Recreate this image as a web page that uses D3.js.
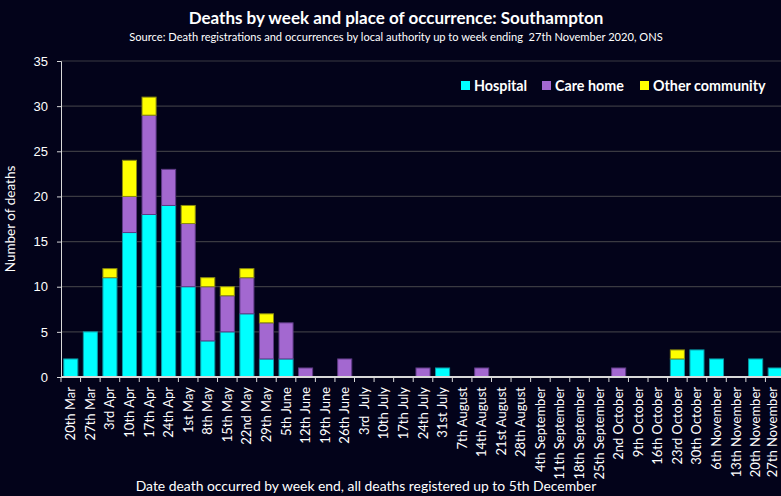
<!DOCTYPE html>
<html><head><meta charset="utf-8">
<script src="https://cdn.jsdelivr.net/npm/d3@7"></script>
<style>
html,body{margin:0;padding:0;background:#03031a;}
svg{display:block;font-family:Lato,"Open Sans",sans-serif;}
</style></head><body>
<svg id="c" width="781" height="496"></svg>
<script>
const categories = ["20th Mar","27th Mar","3rd Apr","10th Apr","17th Apr","24th Apr","1st May","8th May","15th May","22nd May","29th May","5th June","12th June","19th June","26th June","3rd  July","10th July","17th July","24th July","31st July","7th August","14th August","21st August","28th August","4th September","11th September","18th September","25th September","2nd October","9th October","16th October","23rd October","30th October","6th November","13th November","20th November","27th November"];
const hospital = [2,5,11,16,18,19,10,4,5,7,2,2,0,0,0,0,0,0,0,1,0,0,0,0,0,0,0,0,0,0,0,2,3,2,0,2,1];
const careHome = [0,0,0,4,11,4,7,6,4,4,4,4,1,0,2,0,0,0,1,0,0,1,0,0,0,0,0,0,1,0,0,0,0,0,0,0,0];
const otherCommunity = [0,0,1,4,2,0,2,1,1,1,1,0,0,0,0,0,0,0,0,0,0,0,0,0,0,0,0,0,0,0,0,1,0,0,0,0,0];
const seriesNames = ["Hospital","Care home","Other community"];
const seriesFill = ["#00ffff","#a368d0","#ffff00"];
const seriesStroke = ["#0a9aa6","#5e3a85","#8a8a10"];
const yTicks = [0,5,10,15,20,25,30,35];

const svg = d3.select("#c");
const mLeft = 61, mRight = 785, mTop = 61, mBottom = 377;
const x = d3.scaleBand().domain(categories).range([mLeft, mRight]).paddingInner(0.23).paddingOuter(0.115);
const y = d3.scaleLinear().domain([0,35]).range([mBottom, mTop]);

const rows = categories.map((c,i)=>({cat:c, "Hospital":hospital[i], "Care home":careHome[i], "Other community":otherCommunity[i]}));
const stacked = d3.stack().keys(seriesNames)(rows);

// gridlines
svg.append("g").selectAll("line").data(yTicks.filter(d=>d>0)).join("line")
  .attr("x1", mLeft).attr("x2", 781).attr("y1", d=>y(d)).attr("y2", d=>y(d))
  .attr("stroke","#3a3a42").attr("stroke-width",1.2);

// bars
stacked.forEach((s,si)=>{
  svg.append("g").selectAll("rect").data(s.filter(d=>d[1]-d[0]>0)).join("rect")
    .attr("x", d=>x(d.data.cat)+0.5)
    .attr("width", x.bandwidth()-1)
    .attr("y", d=>y(d[1]))
    .attr("height", d=>y(d[0])-y(d[1]))
    .attr("fill", seriesFill[si])
    .attr("stroke", seriesStroke[si]).attr("stroke-width",1);
});

// y axis
const yAxis = svg.append("g").attr("transform",`translate(${mLeft},0)`)
  .call(d3.axisLeft(y).tickValues(yTicks).tickSize(4).tickFormat(d3.format("d")));
yAxis.select(".domain").attr("stroke","#d9d9d9");
yAxis.selectAll(".tick line").attr("stroke","#d9d9d9");
yAxis.selectAll("text").attr("fill","#ffffff").attr("font-size","13px").attr("x",-13);

// x axis
const step = x.step();
const xg = svg.append("g");
xg.append("line").attr("x1",mLeft).attr("x2",781).attr("y1",mBottom).attr("y2",mBottom).attr("stroke","#d9d9d9").attr("stroke-width",2);
xg.selectAll("line.t").data(d3.range(categories.length+1)).join("line").attr("class","t")
  .attr("x1",i=>mLeft+i*step).attr("x2",i=>mLeft+i*step)
  .attr("y1",mBottom).attr("y2",mBottom+5).attr("stroke","#d9d9d9");
xg.selectAll("text").data(categories).join("text")
  .attr("transform", d=>`translate(${Math.min(x(d)+x.bandwidth()/2+4.5, 776.5)},${mBottom+10}) rotate(-90)`)
  .attr("text-anchor","end").attr("fill","#ffffff").attr("font-size","13px")
  .attr("xml:space","preserve")
  .text(d=>d);

// titles
svg.append("text").attr("x",396).attr("y",24).attr("text-anchor","middle").attr("fill","#fff")
  .attr("font-weight","bold").attr("font-size","17px").text("Deaths by week and place of occurrence: Southampton");
svg.append("text").attr("x",396).attr("y",41).attr("text-anchor","middle").attr("fill","#fff")
  .attr("font-size","11.1px").attr("xml:space","preserve").text("Source: Death registrations and occurrences by local authority up to week ending  27th November 2020, ONS");
svg.append("text").attr("transform","translate(15,219) rotate(-90)").attr("text-anchor","middle").attr("fill","#fff")
  .attr("font-size","13.5px").text("Number of deaths");
svg.append("text").attr("x",366).attr("y",491).attr("text-anchor","middle").attr("fill","#fff")
  .attr("font-size","13.9px").text("Date death occurred by week end, all deaths registered up to 5th December");

// legend
const legX = [461, 542, 640];
const lg = svg.append("g");
seriesNames.forEach((n,i)=>{
  lg.append("rect").attr("x",legX[i]).attr("y",81).attr("width",9).attr("height",9).attr("fill",seriesFill[i]);
  lg.append("text").attr("x",legX[i]+13).attr("y",91).attr("fill","#fff").attr("font-weight","bold")
    .attr("font-size","14.3px").text(n);
});
</script>
</body></html>
